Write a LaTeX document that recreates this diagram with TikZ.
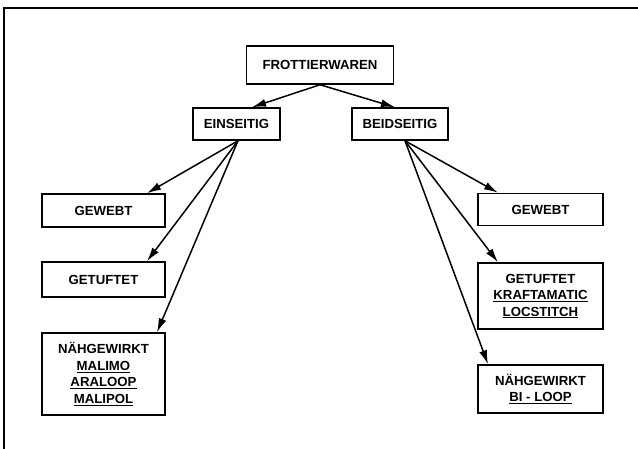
\documentclass[tikz,border=0pt]{standalone}
\usepackage{fontspec}
\setmainfont{Liberation Sans}
\usetikzlibrary{arrows.meta}
\tikzset{
  box/.style={draw, line width=1.5pt, align=center, inner sep=0pt,
    font=\fontsize{13.2}{16.5}\selectfont\bfseries},
  conn/.style={line width=1.5pt, -{Latex[length=14pt,width=8pt]}},
  frame/.style={line width=2pt}
}
\begin{document}
\begin{tikzpicture}[x=1pt,y=-1pt]
\useasboundingbox (0,0) rectangle (638,449);
\coordinate (fbl) at (4,449);
\coordinate (ftl) at (4,8);
\coordinate (ftr) at (638,8);
\draw[frame] (fbl) -- (ftl) -- (ftr);

\node[box, minimum width=147pt, minimum height=38pt] (frot) at (320,65) {FROTTIERWAREN};
\node[box, minimum width=87pt, minimum height=32pt] (ein) at (236.5,124) {EINSEITIG};
\node[box, minimum width=96pt, minimum height=32pt] (bei) at (400,124) {BEIDSEITIG};

\node[box, minimum width=123pt, minimum height=33pt] (gl) at (103.5,210.5) {GEWEBT};
\node[box, minimum width=123pt, minimum height=35pt] (tl) at (103.5,279.5) {GETUFTET};
\node[box, minimum width=123pt, minimum height=82pt] (nl) at (103.5,374) {N\"AHGEWIRKT\\ \underline{MALIMO}\\ \underline{ARALOOP}\\ \underline{MALIPOL}};

\node[box, minimum width=125pt, minimum height=32pt] (gr) at (540.5,209.5) {GEWEBT};
\node[box, minimum width=125pt, minimum height=66pt] (tr) at (540.5,296) {GETUFTET\\ \underline{KRAFTAMATIC}\\ \underline{LOCSTITCH}};
\node[box, minimum width=125pt, minimum height=48pt] (nr) at (540.5,389) {N\"AHGEWIRKT\\ \underline{BI - LOOP}};

\draw[conn] (frot.south) -- ([xshift=15.5pt]ein.north);
\draw[conn] (frot.south) -- ([xshift=-5pt]bei.north);

\draw[conn] ([xshift=1.5pt]ein.south) -- ([xshift=43.5pt]gl.north);
\draw[conn] ([xshift=1.5pt]ein.south) -- ([xshift=43.5pt]tl.north);
\draw[conn] ([xshift=1.5pt]ein.south) -- ([xshift=53.5pt]nl.north);

\draw[conn] ([xshift=5pt]bei.south) -- ([xshift=-42.5pt]gr.north);
\draw[conn] ([xshift=5pt]bei.south) -- ([xshift=-42.5pt]tr.north);
\draw[conn] ([xshift=5pt]bei.south) -- ([xshift=-52.5pt]nr.north);
\end{tikzpicture}
\end{document}
